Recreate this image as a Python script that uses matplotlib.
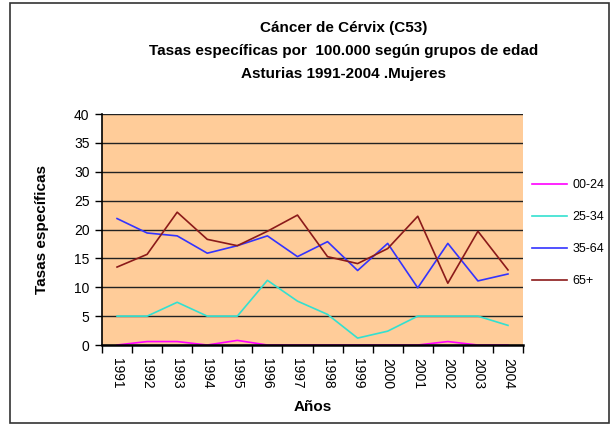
import numpy as np
import matplotlib.pyplot as plt
from matplotlib.patches import Rectangle
from matplotlib.ticker import MultipleLocator

years = ['1991', '1992', '1993', '1994', '1995', '1996', '1997',
         '1998', '1999', '2000', '2001', '2002', '2003', '2004']
g00_24 = [0, 0.6, 0.6, 0, 0.8, 0, 0, 0, 0, 0, 0, 0.6, 0, 0]
g25_34 = [5.0, 5.0, 7.4, 5.0, 5.0, 11.2, 7.6, 5.3, 1.2, 2.4, 5.0, 5.0, 5.0, 3.4]
g35_64 = [21.9, 19.4, 18.9, 15.9, 17.2, 18.9, 15.3, 17.9, 12.9, 17.6, 9.9, 17.6, 11.1, 12.3]
g65 = [13.5, 15.7, 23.0, 18.3, 17.2, 19.7, 22.5, 15.3, 14.1, 16.7, 22.3, 10.7, 19.7, 13.0]

labels = ['00-24', '25-34', '35-64', '65+']
colors = ['#FF00FF', '#33E0D0', '#3333FF', '#8B1A1A']

plt.rcParams['font.family'] = ['Liberation Sans', 'DejaVu Sans']

fig = plt.figure(figsize=(6.13, 4.25), dpi=100)
ax = fig.add_axes([0.1664, 0.1882, 0.6868, 0.5435])
ax.set_facecolor('#FFCC99')

x = np.arange(len(years))
lines = []
for vals, lab, col in zip([g00_24, g25_34, g35_64, g65], labels, colors):
    ln, = ax.plot(x, vals, color=col, lw=1.2, label=lab, zorder=3)
    lines.append(ln)

ax.set_xlim(-0.5, len(years) - 0.5)
ax.set_ylim(0, 40)
ax.yaxis.set_major_locator(MultipleLocator(5))
ax.grid(axis='y', color='#222222', lw=1, zorder=1)
ax.set_axisbelow(True)

ax.set_xticks(x)
ax.set_xticklabels(years, rotation=270, fontsize=10)
ax.set_xticks(np.arange(-0.5, len(years), 1), minor=True)
ax.tick_params(axis='x', which='major', length=0, pad=9)
ax.tick_params(axis='x', which='minor', length=6, width=1, direction='out')
ax.tick_params(axis='y', length=5, width=1, labelsize=10, pad=4)

for s in ['top', 'right']:
    ax.spines[s].set_visible(False)
ax.spines['left'].set_linewidth(1.2)
ax.spines['bottom'].set_linewidth(1.8)
for s in ['left', 'bottom']:
    ax.spines[s].set_zorder(4)

ax.set_ylabel('Tasas específicas', fontsize=11, fontweight='bold')
ax.yaxis.set_label_coords(-0.125, 0.5)
fig.text(0.51, 0.042, 'Años', ha='center', va='center', fontsize=11, fontweight='bold')

title = ('Cáncer de Cérvix (C53)\n'
         'Tasas específicas por  100.000 según grupos de edad\n'
         'Asturias 1991-2004 .Mujeres')
fig.text(0.561, 0.88, title, ha='center', va='center', fontsize=11,
         fontweight='bold', linespacing=1.85)

fig.legend(handles=lines, labels=labels, loc='center left',
           bbox_to_anchor=(0.868, 0.452), frameon=False, fontsize=9,
           handlelength=2.8, labelspacing=1.6, handletextpad=0.45,
           borderaxespad=0, borderpad=0)

fig.patches.append(Rectangle((10 / 613, 2 / 425), 599 / 613, 420 / 425,
                             transform=fig.transFigure, fill=False,
                             edgecolor='#333333', lw=1.2))

fig.savefig('out.png', dpi=100)
